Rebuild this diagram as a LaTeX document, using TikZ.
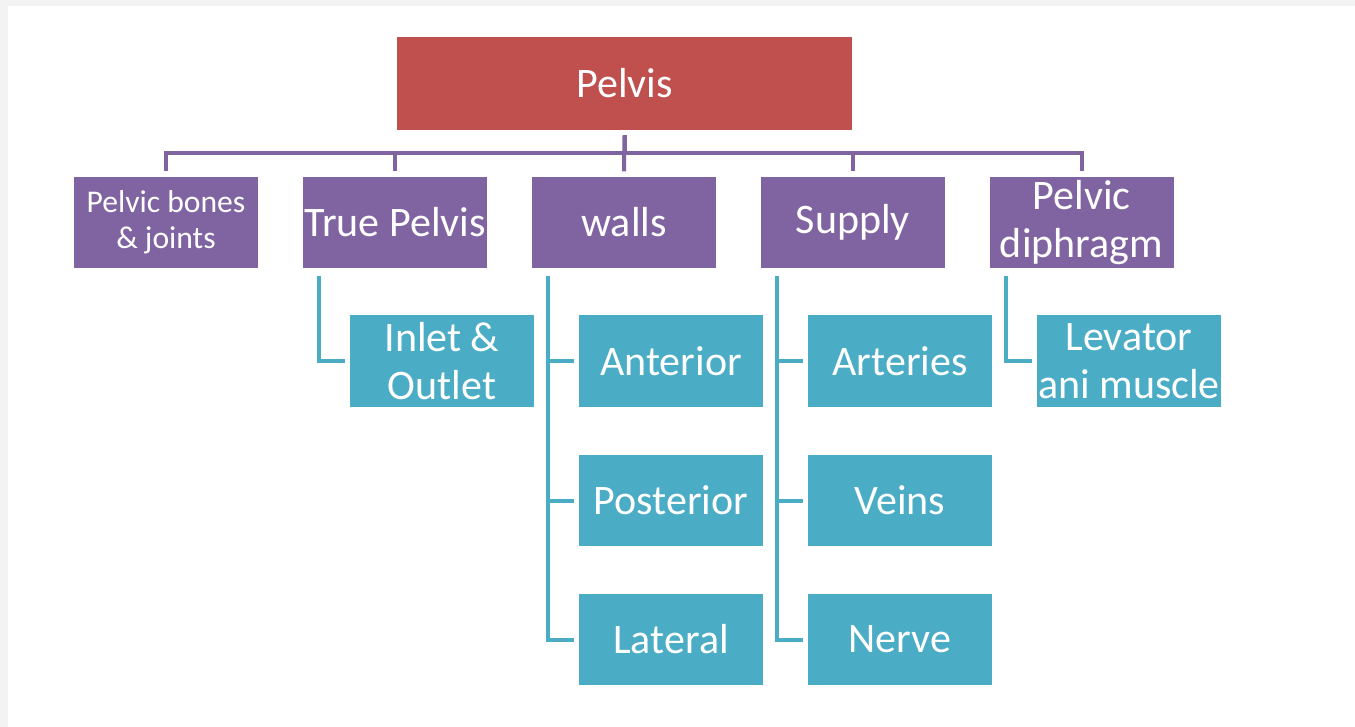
\documentclass[tikz,border=0pt]{standalone}
\usepackage{fontspec}
\setmainfont{Carlito}
\definecolor{boxred}{HTML}{C0504D}
\definecolor{boxpurple}{HTML}{8064A2}
\definecolor{boxblue}{HTML}{4BACC6}
\definecolor{framegray}{HTML}{F3F3F3}
\begin{document}
\begin{tikzpicture}[x = 0.5pt, y = -0.5pt,
	box/.style = { text = white, minimum width = 92pt, minimum height = 45.75pt, inner sep = 0pt, align = center, font = \fontsize{21}{24}\selectfont },
	topbox/.style = { box, fill = boxred, minimum width = 227.5pt, minimum height = 46.5pt },
	mainbox/.style = { box, fill = boxpurple },
	subbox/.style = { box, fill = boxblue },
	purpleline/.style = { draw = boxpurple, line width = 2pt },
	blueline/.style = { draw = boxblue, line width = 2pt }]
	% page frame
	\fill [framegray] (0, 0) rectangle (1355, 727);
	\fill [white] (8, 6) rectangle (1355, 727);
	% boxes
	\node [topbox] (pelvis) at (624.5, 83.5) {Pelvis};
	\node [mainbox, font = \fontsize{15.8}{18}\selectfont] (bones) at (166, 222.5) {Pelvic bones\\\& joints};
	\node [mainbox] (true) at (395, 222.5) {True Pelvis};
	\node [mainbox] (walls) at (624, 222.5) {walls};
	\node [mainbox] (supply) at (853, 222.5) {Supply};
	\node [mainbox] (diaphragm) at (1081.5, 222.5) {Pelvic\\diphragm};
	\node [subbox] (inlet) at (442, 361) {Inlet \&\\Outlet};
	\node [subbox] (anterior) at (671, 361) {Anterior};
	\node [subbox] (posterior) at (671, 500.5) {Posterior};
	\node [subbox] (lateral) at (671, 639.5) {Lateral};
	\node [subbox] (arteries) at (900, 361) {Arteries};
	\node [subbox] (veins) at (900, 500.5) {Veins};
	\node [subbox] (nerve) at (900, 639.5) {Nerve};
	\node [subbox] (levator) at (1129, 361) {Levator\\ani muscle};
	% first level
	\draw [purpleline] ([yshift = -2.5pt] pelvis.south) -- ++(0, -8.75pt) -| ([yshift = 2.5pt] bones.north);
	\draw [purpleline] ([yshift = -2.5pt] pelvis.south) -- ++(0, -8.75pt) -| ([yshift = 2.5pt] true.north);
	\draw [purpleline] ([yshift = -2.5pt] pelvis.south) -- ([yshift = 2.5pt] walls.north);
	\draw [purpleline] ([yshift = -2.5pt] pelvis.south) -- ++(0, -8.75pt) -| ([yshift = 2.5pt] supply.north);
	\draw [purpleline] ([yshift = -2.5pt] pelvis.south) -- ++(0, -8.75pt) -| ([yshift = 2.5pt] diaphragm.north);
	% second level
	\draw [blueline] ([xshift = 8.25pt, yshift = -3.5pt] true.south west) |- ([xshift = -2.5pt] inlet.west);
	\draw [blueline] ([xshift = 8.25pt, yshift = -3.5pt] walls.south west) |- ([xshift = -2.5pt] anterior.west);
	\draw [blueline] ([xshift = 8.25pt, yshift = -3.5pt] walls.south west) |- ([xshift = -2.5pt] posterior.west);
	\draw [blueline] ([xshift = 8.25pt, yshift = -3.5pt] walls.south west) |- ([xshift = -2.5pt] lateral.west);
	\draw [blueline] ([xshift = 8.25pt, yshift = -3.5pt] supply.south west) |- ([xshift = -2.5pt] arteries.west);
	\draw [blueline] ([xshift = 8.25pt, yshift = -3.5pt] supply.south west) |- ([xshift = -2.5pt] veins.west);
	\draw [blueline] ([xshift = 8.25pt, yshift = -3.5pt] supply.south west) |- ([xshift = -2.5pt] nerve.west);
	\draw [blueline] ([xshift = 8.25pt, yshift = -3.5pt] diaphragm.south west) |- ([xshift = -2.5pt] levator.west);
\end{tikzpicture}
\end{document}
